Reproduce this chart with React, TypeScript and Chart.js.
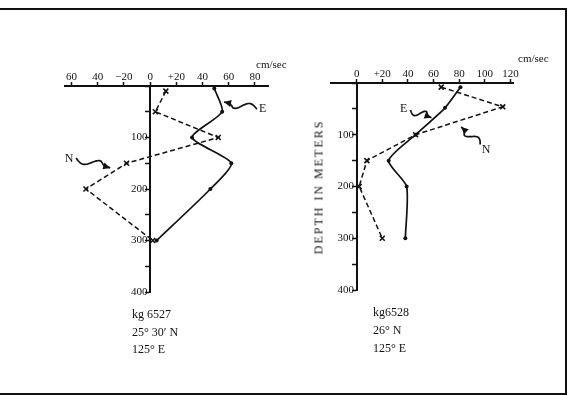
import React, { useEffect, useRef } from 'react';
import { Chart, registerables } from 'chart.js';

Chart.register(...registerables);

// ---- data: left panel (kg 6527) ----
const leftDepthE = [5, 50, 100, 150, 200, 300];
const leftSpeedE = [49, 55, 32, 62, 46, 5];
const leftDepthN = [10, 50, 100, 150, 200, 300];
const leftSpeedN = [12, 4, 52, -18, -49, 2];

// ---- data: right panel (kg6528) ----
const rightDepthE = [8, 48, 100, 150, 200, 300];
const rightSpeedE = [81, 69, 46, 25, 39, 38];
const rightDepthN = [8, 46, 100, 150, 200, 300];
const rightSpeedN = [66, 114, 46, 8, 2, 20];

// ---- ticks ----
const leftSpeedTicks = [-60, -40, -20, 0, 20, 40, 60, 80];
const leftSpeedTickLabels = ['60', '40', '\u221220', '0', '+20', '40', '60', '80'];
const rightSpeedTicks = [0, 20, 40, 60, 80, 100, 120];
const rightSpeedTickLabels = ['0', '+20', '40', '60', '80', '100', '120'];
const depthTicks = [0, 50, 100, 150, 200, 250, 300, 350, 400];
const depthTickLabels = ['', '', '100', '', '200', '', '300', '', '400'];

// ---- annotation labels (speed, depth) ----
const leftLabels = [
  { text: 'E', v: 86, d: 45, from: [81.5, 45], to: [56.5, 31] },
  { text: 'N', v: -61.8, d: 142, from: [-56.5, 140], to: [-30.5, 159] },
];
const rightLabels = [
  { text: 'E', v: 36.7, d: 50, from: [42, 52], to: [58.4, 67] },
  { text: 'N', v: 101, d: 129, from: [96.4, 119], to: [81.6, 85] },
];

const SERIF = "'Liberation Serif', 'DejaVu Serif', serif";
const INK = '#111';

function toPoints(xs: number[], ys: number[]) {
  return xs.map((x, i) => ({ x, y: ys[i] }));
}

function annotPlugin(labels: typeof leftLabels) {
  return {
    id: 'annot',
    afterDatasetsDraw(chart: any) {
      const xs = chart.scales.x;
      const ys = chart.scales.y;
      const ctx: CanvasRenderingContext2D = chart.ctx;
      ctx.save();
      ctx.fillStyle = INK;
      ctx.strokeStyle = INK;
      ctx.font = `12px ${SERIF}`;
      ctx.textAlign = 'center';
      ctx.textBaseline = 'middle';
      labels.forEach((l) => {
        ctx.fillText(l.text, xs.getPixelForValue(l.v), ys.getPixelForValue(l.d));
        const sx = xs.getPixelForValue(l.from[0]);
        const sy = ys.getPixelForValue(l.from[1]);
        const ex = xs.getPixelForValue(l.to[0]);
        const ey = ys.getPixelForValue(l.to[1]);
        const dx = ex - sx;
        const dy = ey - sy;
        const len = Math.hypot(dx, dy);
        const ux = dx / len;
        const uy = dy / len;
        const nx = -uy;
        const ny = ux;
        ctx.lineWidth = 1.7;
        ctx.beginPath();
        const steps = 40;
        for (let i = 0; i <= steps; i++) {
          const t = i / steps;
          const taper = t < 0.7 ? 1 : Math.max(0, (0.85 - t) / 0.15);
          const off = 4 * Math.sin(2 * Math.PI * 1.1 * t) * taper;
          const px = sx + dx * t + nx * off;
          const py = sy + dy * t + ny * off;
          if (i === 0) ctx.moveTo(px, py);
          else ctx.lineTo(px, py);
        }
        ctx.stroke();
        ctx.beginPath();
        ctx.moveTo(ex, ey);
        ctx.lineTo(ex - ux * 7 + nx * 3.5, ey - uy * 7 + ny * 3.5);
        ctx.lineTo(ex - ux * 7 - nx * 3.5, ey - uy * 7 - ny * 3.5);
        ctx.closePath();
        ctx.fill();
      });
      ctx.restore();
    },
  };
}

function makeConfig(
  eData: { x: number; y: number }[],
  nData: { x: number; y: number }[],
  xMin: number,
  xMax: number,
  xTicks: number[],
  xLabels: string[],
  padding: { left: number; right: number; top: number; bottom: number },
  labels: typeof leftLabels
): any {
  const font = { family: SERIF, size: 11 };
  return {
    type: 'scatter',
    data: {
      datasets: [
        {
          label: 'E',
          data: eData,
          showLine: true,
          borderColor: INK,
          backgroundColor: INK,
          borderWidth: 1.7,
          tension: 0.22,
          pointStyle: 'circle',
          pointRadius: 2,
          pointBorderWidth: 0,
          clip: false,
        },
        {
          label: 'N',
          data: nData,
          showLine: true,
          borderColor: INK,
          backgroundColor: INK,
          borderWidth: 1.5,
          borderDash: [5, 3],
          tension: 0,
          pointStyle: 'crossRot',
          pointRadius: 3.5,
          pointBorderWidth: 1.6,
          clip: false,
        },
      ],
    },
    options: {
      responsive: false,
      animation: false,
      layout: { padding },
      plugins: { legend: { display: false }, tooltip: { enabled: false } },
      scales: {
        x: {
          type: 'linear',
          position: 'top',
          min: xMin,
          max: xMax,
          afterBuildTicks: (s: any) => {
            s.ticks = xTicks.map((v) => ({ value: v }));
          },
          afterFit: (s: any) => {
            s.height = 20;
          },
          ticks: {
            autoSkip: false,
            maxRotation: 0,
            padding: -2,
            color: INK,
            font,
            callback: (v: number) => xLabels[xTicks.indexOf(v)],
          },
          grid: {
            drawOnChartArea: false,
            drawTicks: true,
            tickLength: 4,
            tickColor: INK,
            tickWidth: 1.5,
          },
          border: { color: INK, width: 2 },
        },
        y: {
          type: 'linear',
          position: { x: 0 },
          reverse: true,
          min: 0,
          max: 400,
          afterBuildTicks: (s: any) => {
            s.ticks = depthTicks.map((v) => ({ value: v }));
          },
          ticks: {
            autoSkip: false,
            padding: 1,
            color: INK,
            font,
            callback: (v: number) => {
              const t = depthTickLabels[depthTicks.indexOf(v)];
              return t ? t + ' ' : '';
            },
          },
          grid: {
            drawOnChartArea: false,
            drawTicks: true,
            tickLength: 4,
            tickColor: INK,
            tickWidth: 1.5,
          },
          border: { color: INK, width: 2 },
        },
      },
    },
    plugins: [annotPlugin(labels)],
  };
}

const canvasStyle: React.CSSProperties = {
  position: 'absolute',
  left: 0,
  top: 0,
  width: 571,
  height: 395,
};

const textStyle: React.CSSProperties = {
  position: 'absolute',
  fontFamily: SERIF,
  color: INK,
  whiteSpace: 'nowrap',
};

export default function App() {
  const leftRef = useRef<HTMLCanvasElement>(null);
  const rightRef = useRef<HTMLCanvasElement>(null);

  useEffect(() => {
    const left = new Chart(
      leftRef.current!,
      makeConfig(
        toPoints(leftSpeedE, leftDepthE),
        toPoints(leftSpeedN, leftDepthN),
        -65,
        90,
        leftSpeedTicks,
        leftSpeedTickLabels,
        { left: 65, right: 303, top: 66, bottom: 103 },
        leftLabels
      )
    );
    const right = new Chart(
      rightRef.current!,
      makeConfig(
        toPoints(rightSpeedE, rightDepthE),
        toPoints(rightSpeedN, rightDepthN),
        -20,
        122,
        rightSpeedTicks,
        rightSpeedTickLabels,
        { left: 331, right: 58, top: 63, bottom: 105 },
        rightLabels
      )
    );
    return () => {
      left.destroy();
      right.destroy();
    };
  }, []);

  return (
    <div
      style={{
        position: 'fixed',
        left: 0,
        top: 0,
        width: 571,
        height: 395,
        background: '#fff',
        overflow: 'hidden',
      }}
    >
      <div
        style={{
          position: 'absolute',
          left: -4,
          top: 8,
          width: 569,
          height: 383,
          borderTop: `2px solid ${INK}`,
          borderRight: `2px solid ${INK}`,
          borderBottom: `2px solid ${INK}`,
        }}
      />
      <canvas ref={leftRef} width={571} height={395} style={canvasStyle} />
      <canvas ref={rightRef} width={571} height={395} style={canvasStyle} />
      <div style={{ ...textStyle, left: 256, top: 58, fontSize: 11 }}>cm/sec</div>
      <div style={{ ...textStyle, left: 518, top: 52, fontSize: 11 }}>cm/sec</div>
      <div
        style={{
          ...textStyle,
          left: 319,
          top: 187,
          fontSize: 12,
          letterSpacing: '2px',
          transform: 'translate(-50%, -50%) rotate(-90deg)',
        }}
      >
        DEPTH IN METERS
      </div>
      <div style={{ ...textStyle, left: 132, top: 306, fontSize: 12, lineHeight: '17.5px' }}>
        <div>kg 6527</div>
        <div>25° 30′ N</div>
        <div>125° E</div>
      </div>
      <div style={{ ...textStyle, left: 373, top: 304, fontSize: 12, lineHeight: '17.8px' }}>
        <div>kg6528</div>
        <div>26° N</div>
        <div>125° E</div>
      </div>
    </div>
  );
}
